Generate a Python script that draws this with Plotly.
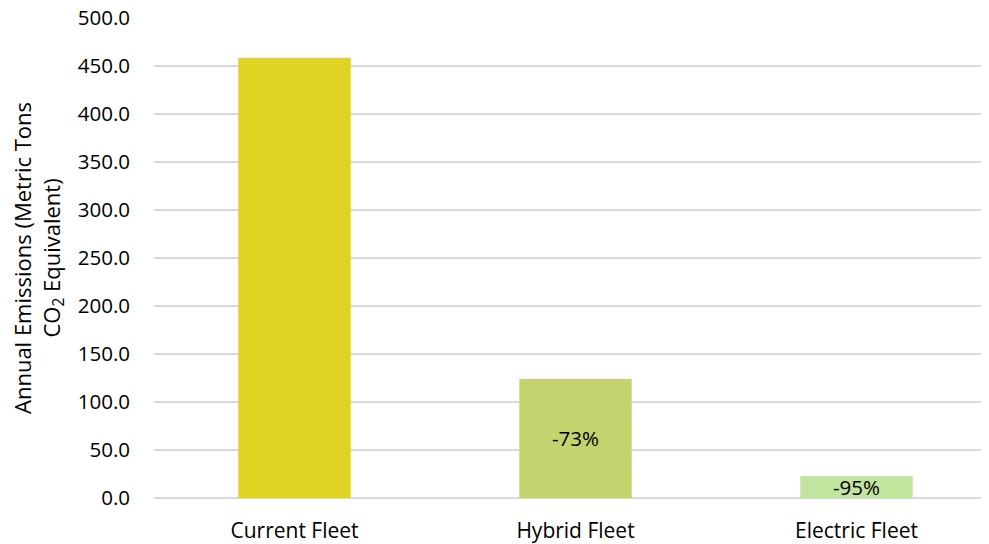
import plotly.graph_objects as go

categories = ["Current Fleet", "Hybrid Fleet", "Electric Fleet"]
emissions = [458.5, 124.0, 23.0]
change_labels = ["", "-73%", "-95%"]
colors = ["#DFD323", "#C5D36E", "#C1E49E"]
y_ticks = [0, 50, 100, 150, 200, 250, 300, 350, 400, 450, 500]

FONT = "Open Sans, Carlito, Calibri, sans-serif"

# page body adds an 8px offset; margins compensate for it
L, R, T, B = 146, 0, 10, 54
PLOT_W = 989 - L - R

fig = go.Figure()
fig.add_trace(go.Bar(
    x=categories,
    y=emissions,
    text=change_labels,
    textposition="inside",
    insidetextanchor="middle",
    constraintext="none",
    textfont=dict(family=FONT, size=20.5, color="#000000"),
    marker=dict(color=colors, line=dict(width=0)),
    width=0.40,
    hoverinfo="x+y",
))

fig.update_layout(
    width=989, height=544,
    margin=dict(l=L, r=R, t=T, b=B, autoexpand=False),
    paper_bgcolor="white", plot_bgcolor="white",
    font=dict(family=FONT, size=20, color="#000000"),
    showlegend=False,
)
fig.update_xaxes(
    range=[-0.5, 2.5],
    automargin=False,
    showgrid=False,
    showline=False,
    ticks="",
    ticklabelstandoff=18,
    tickfont=dict(family=FONT, size=21),
    zeroline=False,
)
fig.update_yaxes(
    range=[0, 500],
    automargin=False,
    tickvals=y_ticks,
    ticktext=[f"{v:.1f}" for v in y_ticks],
    ticklabeloverflow="allow",
    showgrid=True, gridcolor="#D9D9D9", gridwidth=1.5,
    zeroline=True, zerolinecolor="#D9D9D9", zerolinewidth=1.5,
    showline=False,
    ticks="",
    ticklabelstandoff=23,
    tickfont=dict(family=FONT, size=20.5),
)
fig.add_annotation(
    xref="paper", yref="paper",
    x=(30 - L) / PLOT_W, y=0.5,
    xanchor="center", yanchor="middle",
    textangle=-90,
    text="Annual Emissions (Metric Tons<br>CO<sub>2</sub> Equivalent)",
    showarrow=False,
    font=dict(family=FONT, size=22, color="#000000"),
)

fig.write_html("out.html")
